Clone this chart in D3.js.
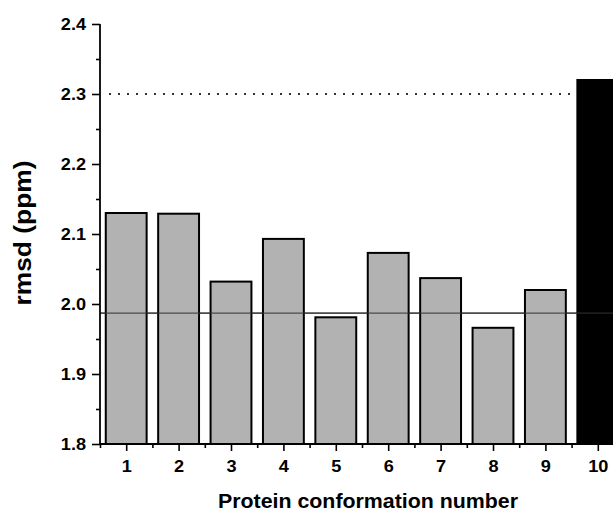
<!DOCTYPE html>
<html>
<head>
<meta charset="utf-8">
<script src="https://cdn.jsdelivr.net/npm/d3@7"></script>
<style>
  body { margin: 0; background: #fff; }
  svg { display: block; }
  text { font-family: "Liberation Sans", Arial, sans-serif; font-weight: bold; fill: #000; }
</style>
</head>
<body>
<div id="chart"></div>
<script>
// data
const conformations = [1, 2, 3, 4, 5, 6, 7, 8, 9, 10];
const rmsd = [2.130, 2.129, 2.032, 2.093, 1.981, 2.073, 2.037, 1.966, 2.020, 2.320];
const meanLine = 1.987;   // solid horizontal line
const cutoffLine = 2.30;  // dotted horizontal line
const yTicks = [1.8, 1.9, 2.0, 2.1, 2.2, 2.3, 2.4];
const yMinor = [1.85, 1.95, 2.05, 2.15, 2.25, 2.35];
const xMinor = [0.5, 1.5, 2.5, 3.5, 4.5, 5.5, 6.5, 7.5, 8.5, 9.5, 10.5];

const W = 613, H = 512;
const margin = {top: 24, right: -11, bottom: 68, left: 100};
const width = W - margin.left - margin.right;
const height = H - margin.top - margin.bottom;

const svg = d3.select("#chart")
    .append("svg")
    .attr("width", W)
    .attr("height", H)
    .append("g")
    .attr("transform", `translate(${margin.left},${margin.top})`);

const x = d3.scaleLinear().domain([0.5, 10.5]).range([0, width]);
const y = d3.scaleLinear().domain([1.8, 2.4]).range([height, 0]);

const barW = x(1.28) - x(0.5);

// mean line (behind bars)
svg.append("line")
    .attr("x1", 0)
    .attr("x2", W)
    .attr("y1", y(meanLine))
    .attr("y2", y(meanLine))
    .attr("stroke", "#444")
    .attr("stroke-width", 1.2);

// dotted cutoff
svg.append("line")
    .attr("x1", 9)
    .attr("x2", x(10))
    .attr("y1", y(cutoffLine))
    .attr("y2", y(cutoffLine))
    .attr("stroke", "#333")
    .attr("stroke-width", 2)
    .attr("stroke-dasharray", "2,7");

svg.selectAll(".bar")
    .data(conformations)
    .enter()
    .append("rect")
    .attr("class", "bar")
    .attr("x", d => x(d) - barW / 2)
    .attr("width", barW)
    .attr("y", (d, i) => y(rmsd[i]))
    .attr("height", (d, i) => y(1.8) - y(rmsd[i]))
    .attr("fill", d => d === 10 ? "#000" : "#b2b2b2")
    .attr("stroke", "#000")
    .attr("stroke-width", 2);

// mean line is visible over the bars too
svg.append("line")
    .attr("x1", 0)
    .attr("x2", W)
    .attr("y1", y(meanLine))
    .attr("y2", y(meanLine))
    .attr("stroke", "#333")
    .attr("stroke-width", 1.2)
    .attr("opacity", 0.8);

// y axis
const yAxis = svg.append("g")
    .call(d3.axisLeft(y).tickValues(yTicks).tickSize(8).tickPadding(6).tickFormat(d3.format(".1f")));
svg.append("g")
    .call(d3.axisLeft(y).tickValues(yMinor).tickSize(4).tickFormat(""))
    .select(".domain").remove();

// x axis
const xAxis = svg.append("g")
    .attr("transform", `translate(0,${height})`)
    .call(d3.axisBottom(x).tickValues(conformations).tickSize(7).tickPadding(9).tickFormat(d3.format("d")));
svg.append("g")
    .attr("transform", `translate(0,${height})`)
    .call(d3.axisBottom(x).tickValues(xMinor).tickSize(4).tickFormat(""))
    .select(".domain").remove();

yAxis.select(".domain").attr("d", `M0,0V${height}`).attr("stroke-width", 1.8);
xAxis.select(".domain").attr("d", `M0,0H${width}`).attr("stroke-width", 1.8);
svg.selectAll(".tick line").attr("stroke-width", 1.6);

// tick labels look a bit wide in the original, stretch them sideways
svg.selectAll(".tick text")
    .style("font-size", "16.5px")
    .style("font-family", "'Liberation Sans', Arial, sans-serif")
    .each(function () {
        const w = this.getComputedTextLength();
        d3.select(this).attr("textLength", w * 1.1).attr("lengthAdjust", "spacingAndGlyphs");
    });

// axis titles
svg.append("text")
    .attr("x", x(5.5) + 6)
    .attr("y", height + 64)
    .attr("text-anchor", "middle")
    .attr("textLength", 300)
    .attr("lengthAdjust", "spacingAndGlyphs")
    .style("font-size", "21px")
    .text("Protein conformation number");

svg.append("text")
    .attr("transform", "rotate(-90)")
    .attr("x", -(y(2.1) - 1))
    .attr("y", -margin.left + 31)
    .attr("text-anchor", "middle")
    .attr("textLength", 145)
    .attr("lengthAdjust", "spacingAndGlyphs")
    .style("font-size", "23px")
    .text("rmsd (ppm)");
</script>
</body>
</html>
